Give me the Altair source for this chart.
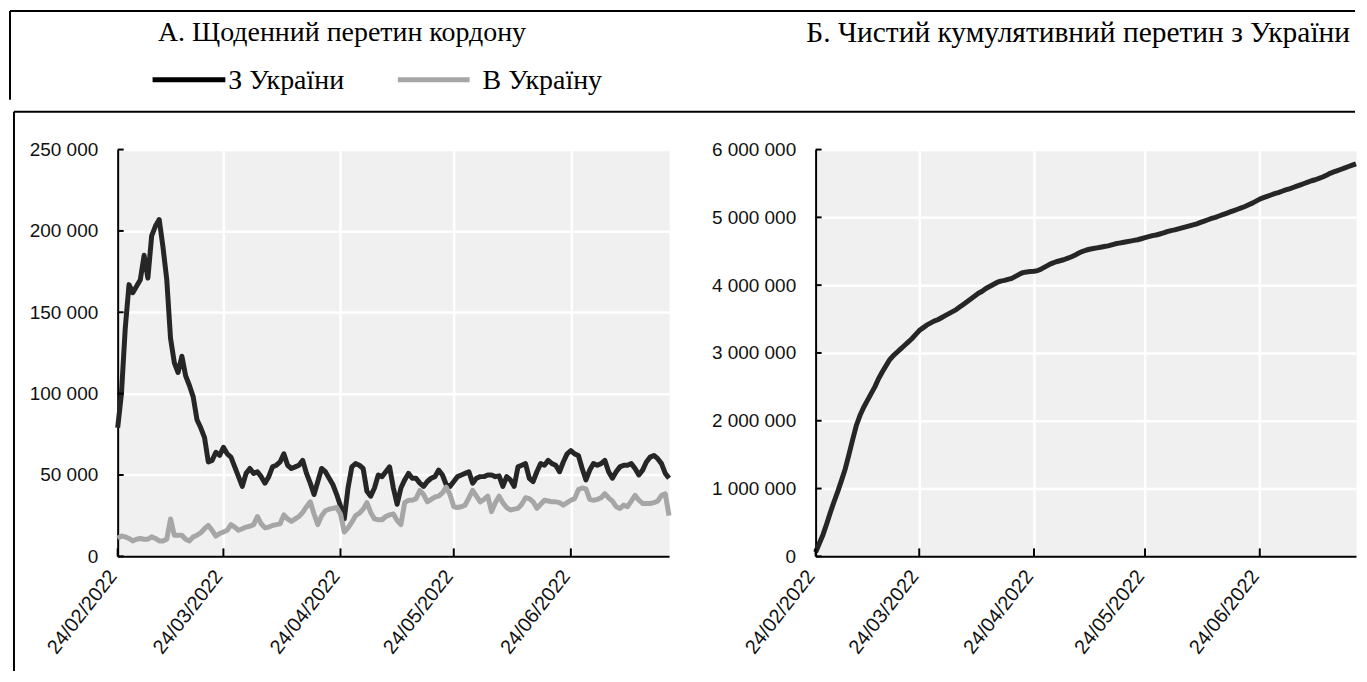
import altair as alt
import pandas as pd

# ---------------- data ----------------
dates = pd.date_range("2022-02-24", "2022-07-20", freq="D").strftime("%Y-%m-%d").tolist()

out_of_ukraine = [
    79000, 100000, 140000, 167000, 162000, 166000, 170000, 185000, 171000, 197000,
    203000, 207000, 190000, 170000, 134000, 119000, 113000, 123000, 111000, 105000,
    98000, 84000, 79000, 73000, 58000, 59000, 64000, 62000, 67000, 63000,
    61000, 55000, 49000, 43000, 51000, 54000, 51000, 52000, 49000, 45000,
    49000, 55000, 56000, 58000, 63000, 56000, 54000, 55000, 56000, 59000,
    51000, 45000, 38000, 46000, 54000, 52000, 48000, 44000, 38000, 31000,
    23000, 42000, 55000, 57000, 56000, 54000, 40000, 37000, 42000, 50000,
    49000, 52000, 55000, 42000, 32000, 42000, 47000, 51000, 48000, 48000,
    45000, 43000, 46000, 48000, 49000, 53000, 50000, 44000, 43000, 46000,
    49000, 50000, 51000, 52000, 45000, 48000, 49000, 49000, 50000, 50000,
    49000, 49500, 43000, 49000, 47000, 43000, 55000, 56000, 57000, 48000,
    46000, 52000, 57000, 56000, 59000, 57000, 56000, 52000, 58000, 63000,
    65000, 63000, 62000, 54000, 47000, 53000, 57000, 56000, 57000, 59000,
    52000, 48000, 52000, 55000, 56000, 56000, 57000, 54000, 50000, 53000,
    58000, 61000, 62000, 60000, 57000, 51000, 48000,
]

into_ukraine = [
    11000, 12500, 12000, 11000, 9500, 10500, 11000, 10500, 10500, 12000,
    11000, 9500, 9500, 10500, 23000, 13000, 13000, 13000, 10500, 9500,
    12000, 13000, 14500, 17000, 19000, 16000, 12500, 14000, 15000, 16000,
    19500, 18000, 16000, 17000, 18000, 18500, 19500, 24500, 20000, 17500,
    18000, 19000, 19500, 20000, 25500, 23000, 21500, 23000, 24500, 27000,
    30500, 33500, 26000, 19500, 25000, 28000, 29000, 29500, 30000, 26000,
    15000, 17500, 21000, 25000, 26500, 29000, 33000, 27000, 23000, 22500,
    22500, 24500, 25500, 26000, 22000, 19500, 33000, 34500, 34500, 35500,
    40500, 38000, 33500, 35000, 36500, 37000, 39000, 42500, 38000, 30500,
    30000, 30500, 31500, 36000, 40500, 37000, 33500, 35000, 37000, 27500,
    33000, 37000, 33000, 30000, 28500, 29000, 29500, 32000, 36000, 35500,
    33500, 29500, 32000, 34500, 34000, 33500, 33500, 33000, 31500, 33000,
    34500, 35500, 41000, 42000, 41500, 35000, 34500, 35000, 36000, 38500,
    36000, 34000, 30500, 29500, 31500, 30500, 34000, 37500, 34500, 32500,
    32500, 32500, 33000, 34000, 37500, 38500, 25000,
]

net_cumulative = [
    60000, 190000, 320000, 480000, 650000, 810000, 960000, 1120000, 1290000, 1500000,
    1720000, 1930000, 2080000, 2200000, 2300000, 2400000, 2500000, 2620000, 2720000, 2810000,
    2900000, 2960000, 3010000, 3060000, 3110000, 3160000, 3210000, 3270000, 3330000, 3370000,
    3410000, 3440000, 3470000, 3490000, 3520000, 3550000, 3580000, 3610000, 3640000, 3680000,
    3720000, 3760000, 3800000, 3840000, 3880000, 3910000, 3950000, 3980000, 4010000, 4040000,
    4060000, 4070000, 4085000, 4100000, 4130000, 4160000, 4185000, 4195000, 4200000, 4205000,
    4215000, 4240000, 4270000, 4300000, 4325000, 4345000, 4360000, 4375000, 4395000, 4415000,
    4440000, 4470000, 4495000, 4515000, 4530000, 4540000, 4550000, 4560000, 4570000, 4580000,
    4595000, 4610000, 4620000, 4630000, 4640000, 4650000, 4660000, 4670000, 4685000, 4700000,
    4715000, 4730000, 4740000, 4755000, 4770000, 4790000, 4805000, 4815000, 4830000, 4845000,
    4860000, 4875000, 4890000, 4905000, 4925000, 4945000, 4965000, 4985000, 5000000, 5020000,
    5040000, 5060000, 5080000, 5100000, 5120000, 5140000, 5160000, 5185000, 5210000, 5240000,
    5270000, 5290000, 5310000, 5330000, 5350000, 5365000, 5385000, 5405000, 5420000, 5440000,
    5460000, 5480000, 5500000, 5520000, 5540000, 5555000, 5575000, 5595000, 5620000, 5650000,
    5670000, 5690000, 5710000, 5730000, 5750000, 5770000, 5790000,
]

series_names = ["З України", "В Україну"]
series_colors = ["#262626", "#a6a6a6"]
panel_titles = ["А. Щоденний перетин кордону", "Б. Чистий кумулятивний перетин з України"]
y_ticks_a = [0, 50000, 100000, 150000, 200000, 250000]
y_ticks_b = [0, 1000000, 2000000, 3000000, 4000000, 5000000, 6000000]
x_tick_dates = ["2022-02-24", "2022-03-24", "2022-04-24", "2022-05-24", "2022-06-24"]

# ---------------- frames ----------------
daily = pd.DataFrame({
    "date": dates * 2,
    "value": out_of_ukraine + into_ukraine,
    "series": [series_names[0]] * len(dates) + [series_names[1]] * len(dates),
})
cumdf = pd.DataFrame({"date": dates, "value": net_cumulative})

W1, W2, H = 553, 542, 408
LABEL_FONT = "Liberation Sans, Arial, sans-serif"
SERIF = "Liberation Serif, Times New Roman, serif"
SERIF_SIZE = 28

x_vals = [alt.DateTime(year=2022, month=int(d[5:7]), date=24, utc=True) for d in x_tick_dates]
x_scale = alt.Scale(type="utc", domain=[alt.DateTime(year=2022, month=2, date=24, utc=True),
                                        alt.DateTime(year=2022, month=7, date=20, utc=True)])
x_axis = alt.Axis(values=x_vals, format="%d/%m/%Y", formatType="utc",
                  labelExpr="utcFormat(datum.value, '%d/%m/%Y')",
                  labelAngle=-52, labelAlign="right", labelBaseline="middle", labelPadding=16,
                  labelOffset=-5, labelFontSize=20, grid=True, title=None, ticks=False)

ylab = "replace(format(datum.value, ','), regexp(',', 'g'), ' ')"
y_axis_a = alt.Axis(values=y_ticks_a, labelExpr=ylab, title=None, ticks=False, labelPadding=20)
y_axis_b = alt.Axis(values=y_ticks_b, labelExpr=ylab, title=None, ticks=False, labelPadding=20)
y_scale_a = alt.Scale(domain=[0, 250000], nice=False, zero=True)
y_scale_b = alt.Scale(domain=[0, 6000000], nice=False, zero=True)


def one(**kw):
    return pd.DataFrame({k: [v] for k, v in kw.items()})


# ---- left panel ----
lines_a = alt.Chart(daily).mark_line(strokeWidth=5, strokeJoin="round").encode(
    x=alt.X("date:T", scale=x_scale, axis=x_axis),
    y=alt.Y("value:Q", scale=y_scale_a, axis=y_axis_a),
    color=alt.Color("series:N", scale=alt.Scale(domain=series_names, range=series_colors), legend=None),
    order=alt.Order("series:N", sort="descending"),
)

yt_a = alt.Chart(pd.DataFrame({"value": y_ticks_a})).mark_rule(color="black", strokeWidth=2).encode(
    y=alt.Y("value:Q", scale=y_scale_a, axis=y_axis_a), x=alt.value(0), x2=alt.value(6))
xt_a = alt.Chart(pd.DataFrame({"date": x_tick_dates})).mark_rule(color="black", strokeWidth=2).encode(
    x=alt.X("date:T", scale=x_scale, axis=x_axis), y=alt.value(H - 8), y2=alt.value(H))

# decorations: frame lines
frame = pd.DataFrame({
    "x1": [-108, -108, -104, -104],
    "x2": [1241, -108, 1241, -104],
    "y1": [-139, -139, -38, -38],
    "y2": [-139, -50, -38, 523],
})
frame_rules = [
    alt.Chart(one(k=i)).mark_rule(color="black", strokeWidth=2).encode(
        x=alt.value(float(r.x1)), x2=alt.value(float(r.x2)),
        y=alt.value(float(r.y1)), y2=alt.value(float(r.y2)))
    for i, r in enumerate(frame.itertuples())
]

title_a = alt.Chart(one(t=panel_titles[0])).mark_text(
    font=SERIF, fontSize=SERIF_SIZE, align="center", baseline="middle", color="black").encode(
    text="t:N", x=alt.value(225), y=alt.value(-117))
title_b = alt.Chart(one(t=panel_titles[1])).mark_text(
    font=SERIF, fontSize=29.5, align="right", baseline="middle", color="black").encode(
    text="t:N", x=alt.value(1236), y=alt.value(-117))

leg_rule_1 = alt.Chart(one(k=0)).mark_rule(color="black", strokeWidth=5).encode(
    x=alt.value(35), x2=alt.value(108), y=alt.value(-70))
leg_rule_2 = alt.Chart(one(k=1)).mark_rule(color=series_colors[1], strokeWidth=5).encode(
    x=alt.value(281), x2=alt.value(353), y=alt.value(-70))
leg_txt_1 = alt.Chart(one(t=series_names[0])).mark_text(
    font=SERIF, fontSize=SERIF_SIZE, align="left", baseline="middle", color="black").encode(
    text="t:N", x=alt.value(111), y=alt.value(-69))
leg_txt_2 = alt.Chart(one(t=series_names[1])).mark_text(
    font=SERIF, fontSize=SERIF_SIZE, align="left", baseline="middle", color="black").encode(
    text="t:N", x=alt.value(366), y=alt.value(-69))

left = alt.layer(lines_a, yt_a, xt_a, *frame_rules, title_a, title_b,
                 leg_rule_1, leg_rule_2, leg_txt_1, leg_txt_2).properties(width=W1, height=H)

# ---- right panel ----
line_b = alt.Chart(cumdf).mark_line(strokeWidth=5, color=series_colors[0], strokeJoin="round").encode(
    x=alt.X("date:T", scale=x_scale, axis=x_axis),
    y=alt.Y("value:Q", scale=y_scale_b, axis=y_axis_b),
)
yt_b = alt.Chart(pd.DataFrame({"value": y_ticks_b})).mark_rule(color="black", strokeWidth=2).encode(
    y=alt.Y("value:Q", scale=y_scale_b, axis=y_axis_b), x=alt.value(0), x2=alt.value(6))
xt_b = alt.Chart(pd.DataFrame({"date": x_tick_dates})).mark_rule(color="black", strokeWidth=2).encode(
    x=alt.X("date:T", scale=x_scale, axis=x_axis), y=alt.value(H - 8), y2=alt.value(H))

right = alt.layer(line_b, yt_b, xt_b).properties(width=W2, height=H)

chart = alt.hconcat(left, right, spacing=147, bounds="flush").properties(
    padding={"left": 0, "top": 0, "right": 0, "bottom": 0},
    background="white",
).configure_view(
    fill="#f0f0f0", stroke="transparent"
).configure_axis(
    domainColor="black", domainWidth=2, gridColor="white", gridWidth=2.5,
    labelFont=LABEL_FONT, labelFontSize=19, labelColor="#111111",
)

chart.save("out.html", embed_options={"renderer": "svg", "actions": False})
